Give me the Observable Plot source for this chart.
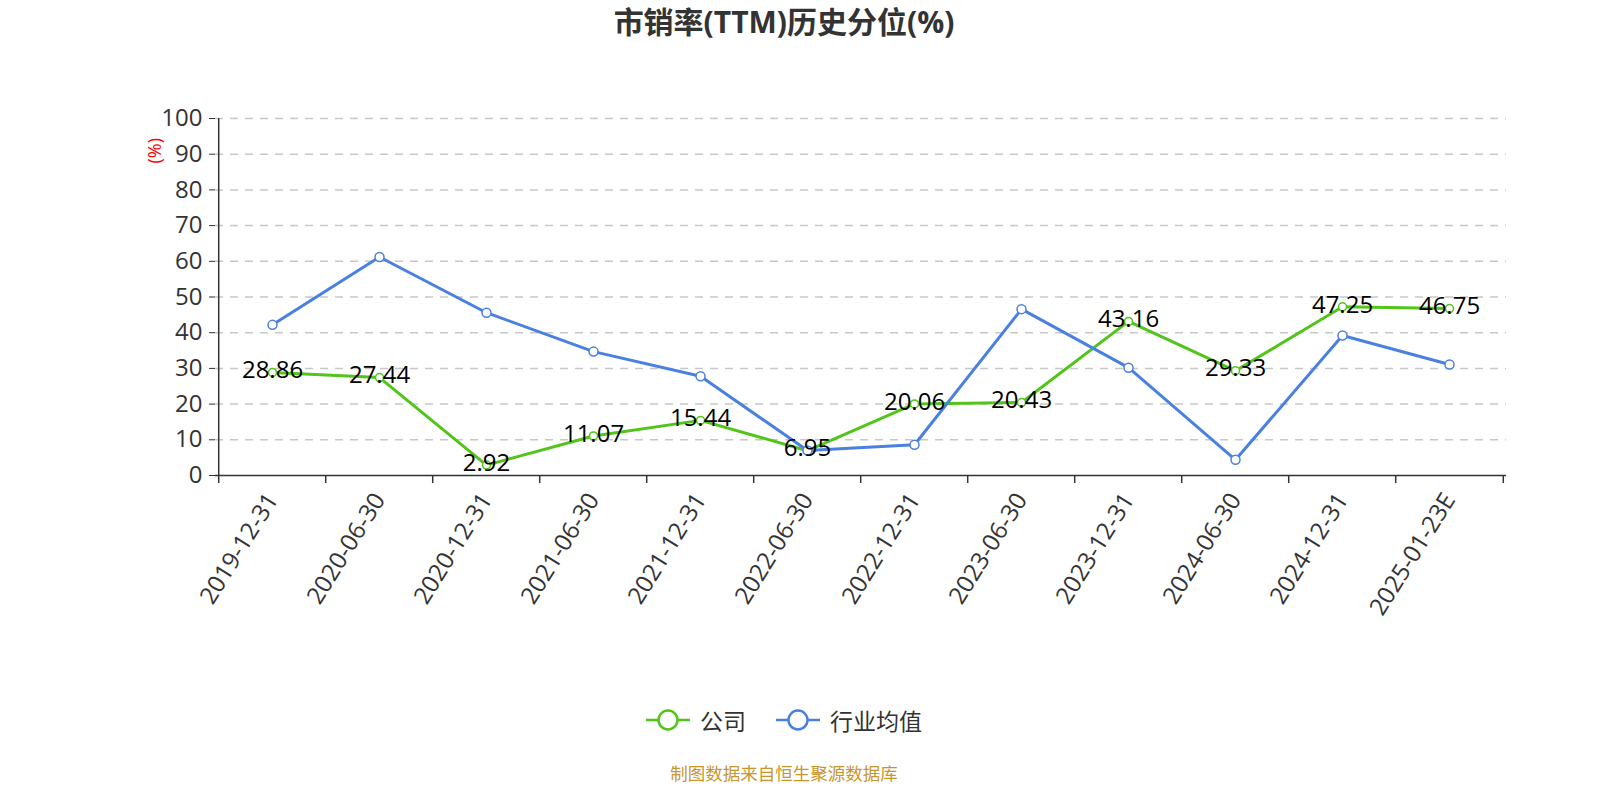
<!DOCTYPE html>
<html><head><meta charset="utf-8">
<script src="https://cdn.jsdelivr.net/npm/d3@7"></script>
<script src="https://cdn.jsdelivr.net/npm/@observablehq/plot@0.6"></script>
<style>
body{margin:0;background:#fff;width:1600px;height:800px;overflow:hidden;position:relative;font-family:"Open Sans","Noto Sans CJK SC",sans-serif}
#title{position:absolute;top:0;left:0;width:1568px;height:44px;line-height:44px;text-align:center;font-weight:bold;font-size:30px;color:#333;font-family:"Open Sans","Noto Sans CJK SC",sans-serif}
#chart{position:absolute;top:50px;left:0}
#legend{position:absolute;top:700px;left:0;width:1568px;height:40px;display:flex;justify-content:center;align-items:center;gap:30px;font-size:23px;color:#333}
.item{display:flex;align-items:center;gap:10px}
#caption{position:absolute;top:760px;left:0;width:1568px;text-align:center;font-size:17.5px;color:#c8962d;line-height:26px}
</style></head><body>
<div id="title"></div><div id="chart"></div><div id="legend"></div><div id="caption"></div>
<script>
const titleText = "市销率(TTM)历史分位(%)";
const dates = ["2019-12-31","2020-06-30","2020-12-31","2021-06-30","2021-12-31","2022-06-30","2022-12-31","2023-06-30","2023-12-31","2024-06-30","2024-12-31","2025-01-23E"];
const company = [28.86, 27.44, 2.92, 11.07, 15.44, 6.95, 20.06, 20.43, 43.16, 29.33, 47.25, 46.75];
const industry = [42.2, 61.2, 45.6, 34.7, 27.8, 7.0, 8.6, 46.6, 30.2, 4.4, 39.2, 31.1];
const seriesNames = ["公司", "行业均值"];
const seriesColors = ["#52c41a", "#4a80e0"];
const yTicks = [0,10,20,30,40,50,60,70,80,90,100];
const yLabel = "(%)";
const captionText = "制图数据来自恒生聚源数据库";

document.getElementById("title").textContent = titleText;
document.getElementById("caption").textContent = captionText;

const W = 1600, H = 640, mL = 215, mR = 94, mT = 68, mB = 215;
const step = (W - mL - mR) / dates.length;

const rowsC = dates.map((d, i) => ({date: d, value: company[i]}));
const rowsI = dates.map((d, i) => ({date: d, value: industry[i]}));

const chart = Plot.plot({
  width: W, height: H,
  marginLeft: mL, marginRight: mR, marginTop: mT, marginBottom: mB,
  style: {color: "#333", fontFamily: '"Open Sans","Noto Sans CJK SC",sans-serif', background: "white"},
  x: {type: "point", domain: dates, padding: 0.5},
  y: {domain: [0, 100]},
  marks: [
    Plot.gridY(yTicks.filter(d => d > 0), {stroke: "#c8c8c8", strokeOpacity: 1, strokeWidth: 1.5, strokeDasharray: "8,7"}),
    Plot.axisY(yTicks, {tickSize: 6, tickPadding: 7, fontSize: 24, label: null}),
    Plot.ruleY([0], {stroke: "#333", strokeWidth: 1.5}),
    Plot.ruleX([dates[0]], {dx: -step / 2, stroke: "#333", strokeWidth: 1.5}),
    Plot.axisX(dates, {tickSize: 8, tickFormat: () => "", dx: -step / 2, label: null, strokeWidth: 1.5}),
    Plot.axisX([dates[dates.length - 1]], {tickSize: 8, tickFormat: () => "", dx: step / 2, label: null, strokeWidth: 1.5}),
    Plot.axisX(dates, {tickSize: 0, tickPadding: 20, tickRotate: -58, textAnchor: "end", lineAnchor: "middle", fontSize: 24, label: null}),
    Plot.line(rowsC, {x: "date", y: "value", stroke: seriesColors[0], strokeWidth: 3}),
    Plot.dot(rowsC, {x: "date", y: "value", r: 4, fill: "white", stroke: seriesColors[0], strokeWidth: 1.5}),
    Plot.line(rowsI, {x: "date", y: "value", stroke: seriesColors[1], strokeWidth: 3}),
    Plot.dot(rowsI, {x: "date", y: "value", r: 4.5, fill: "white", stroke: seriesColors[1], strokeWidth: 1.5}),
    Plot.text(rowsC, {x: "date", y: "value", text: d => d.value.toFixed(2), fontSize: 24, fill: "black", dy: -2, lineAnchor: "middle"}),
    Plot.text([yLabel], {frameAnchor: "top-left", dx: -67, dy: 45, rotate: -90, fill: "red", fontSize: 18})
  ]
});
document.getElementById("chart").appendChild(chart);

const legend = document.getElementById("legend");
seriesNames.forEach((name, i) => {
  const item = document.createElement("div");
  item.className = "item";
  item.innerHTML = `<svg width="44" height="24"><line x1="0" y1="12" x2="44" y2="12" stroke="${seriesColors[i]}" stroke-width="2.5"/><circle cx="22" cy="12" r="9.5" fill="white" stroke="${seriesColors[i]}" stroke-width="2.5"/></svg><span>${name}</span>`;
  legend.appendChild(item);
});
</script>
</body></html>
